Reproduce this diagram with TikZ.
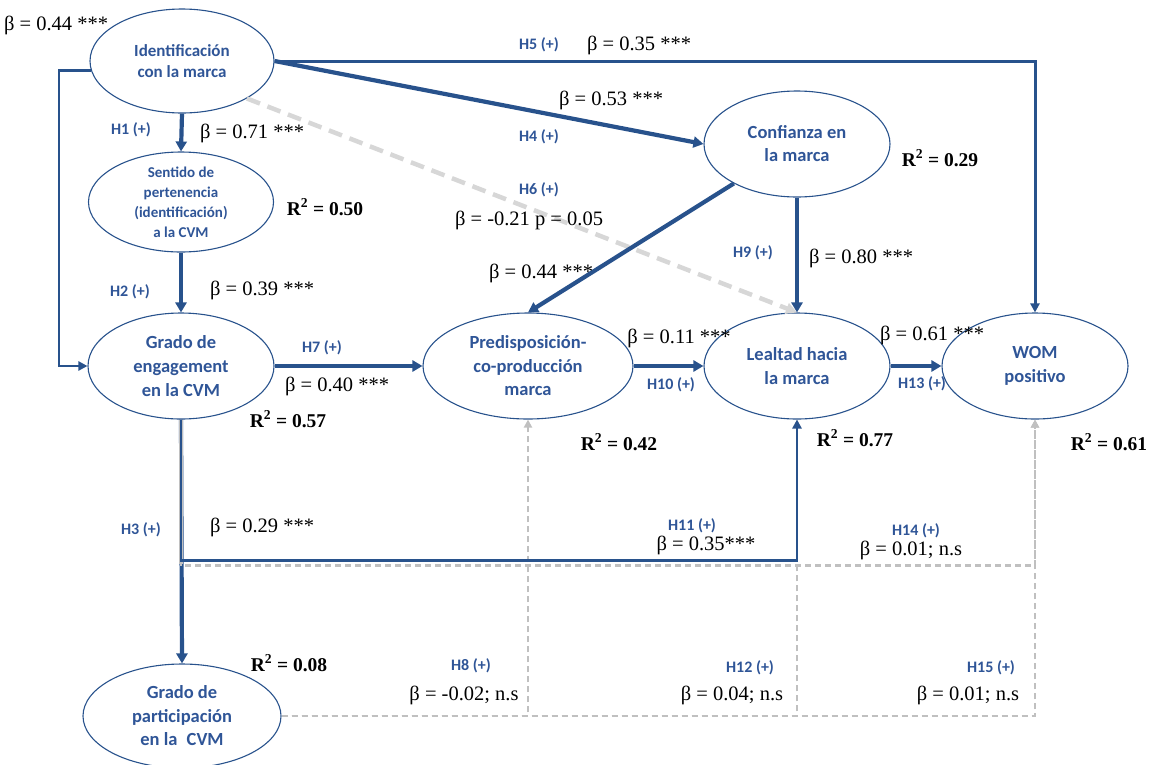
\documentclass[tikz,border=0pt]{standalone}
\usepackage{fontspec}
\setmainfont{Liberation Serif}
\newfontfamily\carlito{Carlito}
\usetikzlibrary{arrows.meta,shapes.geometric}
\definecolor{nblue}{RGB}{40,82,140}
\definecolor{tblue}{RGB}{47,85,151}
\definecolor{lgray}{RGB}{192,192,192}
\definecolor{vgray}{RGB}{215,215,215}
\begin{document}
\begin{tikzpicture}[x=1pt,y=-1pt,
  latent/.style={ellipse, draw=nblue, line width=1.1pt, inner sep=0pt, align=center, text=tblue,
    font=\carlito\bfseries\fontsize{18.5}{23.5}\selectfont},
  hlab/.style={text=tblue, font=\carlito\bfseries\fontsize{16}{18}\selectfont, inner sep=0pt},
  blab/.style={font=\fontsize{20.5}{23}\selectfont, inner sep=0pt},
  rlab/.style={font=\bfseries\fontsize{19.5}{22}\selectfont, inner sep=0pt},
  thickarr/.style={draw=nblue, line width=4.2pt, -{Triangle[length=10pt,width=11pt]}},
  medarr/.style={draw=nblue, line width=2.6pt, -{Triangle[length=9pt,width=9pt]}},
  grayarr/.style={draw=lgray, line width=2.6pt, dash pattern=on 6pt off 4pt, -{Triangle[length=8pt,width=8pt]}},
]
\useasboundingbox (0,0) rectangle (1156,764);

% latent variables
\node[latent, minimum width=184pt, minimum height=104pt, font=\carlito\bfseries\fontsize{17}{20.5}\selectfont] (IM) at (182,61) {Identificación\\con la marca};
\node[latent, minimum width=185pt, minimum height=100pt, inner ysep=-8pt, font=\carlito\bfseries\fontsize{15}{20}\selectfont] (SP) at (181,202) {Sentido de\\pertenencia\\(identificación)\\a la CVM};
\node[latent, minimum width=186pt, minimum height=106pt, font=\carlito\bfseries\fontsize{18.5}{24}\selectfont] (GE) at (181,366) {Grado de\\engagement\\en la CVM};
\node[latent, minimum width=198pt, minimum height=104pt] (GP) at (182,716) {Grado de\\participación\\en la\enspace CVM};
\node[latent, minimum width=186pt, minimum height=106pt, font=\carlito\bfseries\fontsize{18.5}{23}\selectfont] (CM) at (797,144) {Confianza en\\la marca};
\node[latent, minimum width=210pt, minimum height=106pt] (PC) at (528,366) {Predisposición-\\co-producción\\marca};
\node[latent, minimum width=186pt, minimum height=106pt] (LM) at (797,366) {Lealtad hacia\\la marca};
\node[latent, minimum width=186pt, minimum height=106pt] (WOM) at (1035,366) {WOM\\positivo};

% non-significant (gray) paths
\draw[grayarr] (GP.east) -| (PC.south);   % H8
\draw[grayarr] (GP.east) -| (LM.south);   % H12
\draw[grayarr] (GP.east) -| (WOM.south);  % H15
\draw[draw=vgray, line width=4.5pt, dash pattern=on 14pt off 8pt, -{Triangle[length=11pt,width=11pt]}] (IM.-30) -- (LM.north); % H6

% significant paths
\draw[thickarr] (GE.south) -- (GP.north); % H3
\draw[grayarr] (GE.south) -- ++(0,146) -| (WOM.south); % H14
\draw[lgray, line width=4.4pt] (GE.south) -- ++(0,144);
\draw[nblue, line width=2.2pt, dash pattern=on 3pt off 4pt] (GE.south) -- ++(0,141);
\draw[thickarr] (IM.south) -- (SP.north); % H1
\draw[thickarr] (SP.south) -- (GE.north); % H2
\draw[medarr] (IM.186) -- ++(-32,0) |- (GE.west);
\draw[draw=nblue, line width=3pt, -{Triangle[length=9pt,width=9pt]}] (IM.east) -| (WOM.north); % H5
\draw[thickarr] (IM.east) -- (CM.west); % H4
\draw[thickarr] (CM.-148) -- (PC.north);
\draw[thickarr] (CM.south) -- (LM.north); % H9
\draw[thickarr] (GE.east) -- (PC.west); % H7
\draw[thickarr] (PC.east) -- (LM.west); % H10
\draw[thickarr] (LM.east) -- (WOM.west); % H13
\draw[medarr] (GE.south) -- ++(0,141) -| (LM.south); % H11

% labels
\node[blab] (b0) at (56,25) {β = 0.44 ***};
\node[hlab] (h1) at (131,130) {H1 (+)};
\node[blab] (b1) at (252,133) {β = 0.71 ***};
\node[rlab] (r1) at (325,207) {R\textsuperscript{2} = 0.50};
\node[hlab] (h2) at (130,292) {H2 (+)};
\node[blab] (b2) at (262,290) {β = 0.39 ***};
\node[hlab] (h7) at (322,348) {H7 (+)};
\node[blab] (b7) at (337,386) {β = 0.40 ***};
\node[rlab] (r2) at (288,419) {R\textsuperscript{2} = 0.57};
\node[hlab] (h3) at (141,530) {H3 (+)};
\node[blab] (b3) at (262,527) {β = 0.29 ***};
\node[rlab] (r3) at (289,663) {R\textsuperscript{2} = 0.08};
\node[hlab] (h5) at (539,45) {H5 (+)};
\node[blab] (b5) at (639,45) {β = 0.35 ***};
\node[blab] (b4) at (611,100) {β = 0.53 ***};
\node[hlab] (h4) at (539,137) {H4 (+)};
\node[hlab] (h6) at (539,190) {H6 (+)};
\node[blab] (b6) at (529,220) {β = -0.21 p = 0.05};
\node[hlab] (h9) at (753,253) {H9 (+)};
\node[blab] (b9) at (861,258) {β = 0.80 ***};
\node[rlab] (r4) at (940,158) {R\textsuperscript{2} = 0.29};
\node[blab] (bcp) at (541,273) {β = 0.44 ***};
\node[blab] (b10) at (679,338) {β = 0.11 ***};
\node[hlab] (h10) at (671,385) {H10 (+)};
\node[rlab] (r5) at (619,442) {R\textsuperscript{2} = 0.42};
\node[blab] (b13) at (932,335) {β = 0.61 ***};
\node[hlab] (h13) at (922,384) {H13 (+)};
\node[rlab] (r6) at (855,438) {R\textsuperscript{2} = 0.77};
\node[rlab] (r7) at (1109,442) {R\textsuperscript{2} = 0.61};
\node[hlab] (h11) at (692,526) {H11 (+)};
\node[blab] (b11) at (706,545) {β = 0.35***};
\node[hlab] (h8) at (471,666) {H8 (+)};
\node[blab] (b8) at (464,695) {β = -0.02; n.s};
\node[hlab] (h12) at (750,668) {H12 (+)};
\node[blab] (b12) at (732,695) {β = 0.04; n.s};
\node[hlab] (h14) at (916,531) {H14 (+)};
\node[blab] (b14) at (911,550) {β = 0.01; n.s};
\node[hlab] (h15) at (991,668) {H15 (+)};
\node[blab] (b15) at (968,695) {β = 0.01; n.s};
\end{tikzpicture}
\end{document}
